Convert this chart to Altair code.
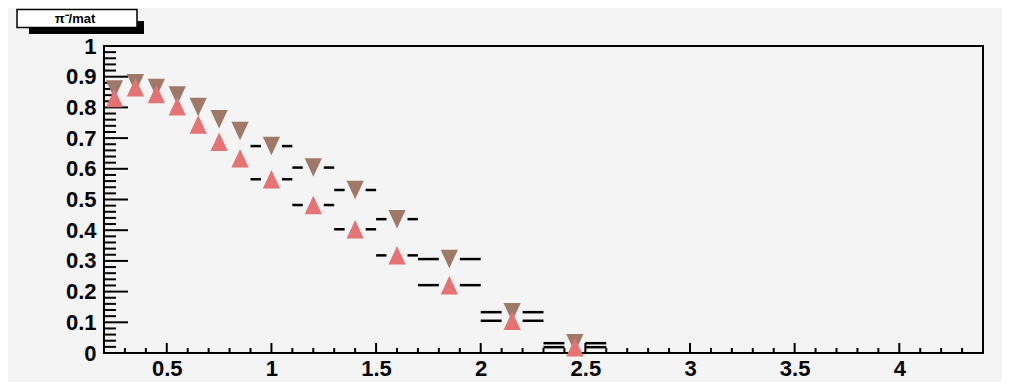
import altair as alt
import pandas as pd

# ---- data ----
x_center = [0.25, 0.35, 0.45, 0.55, 0.65, 0.75, 0.85, 1.0, 1.2, 1.4, 1.6, 1.85, 2.15, 2.45]
x_halfwidth = [0.05, 0.05, 0.05, 0.05, 0.05, 0.05, 0.05, 0.1, 0.1, 0.1, 0.1, 0.15, 0.15, 0.15]
series_down = [0.858, 0.879, 0.863, 0.839, 0.801, 0.761, 0.723, 0.674, 0.604, 0.531, 0.436, 0.306, 0.133, 0.032]
series_up = [0.831, 0.866, 0.844, 0.804, 0.744, 0.688, 0.634, 0.566, 0.482, 0.403, 0.318, 0.221, 0.105, 0.019]

x_major = [0.5, 1.0, 1.5, 2.0, 2.5, 3.0, 3.5, 4.0]
x_minor = [round(0.3 + 0.1 * i, 2) for i in range(41) if round(0.3 + 0.1 * i, 2) not in x_major]
y_major = [round(0.1 * i, 2) for i in range(11)]
y_minor = [round(0.02 * i, 2) for i in range(51) if i % 5 != 0]
title_text = "π⁻/mat"

# ---- layout ----
W, H = 879, 307
X_DOM = [0.2, 4.4]
Y_DOM = [0, 1]
PX_PER_X = W / (X_DOM[1] - X_DOM[0])
GAP = 10.5 / PX_PER_X  # empty space around the marker on the error bar

BROWN = "#a07868"
PINK = "#e57373"
FONT = "Liberation Sans"

xs = alt.Scale(domain=X_DOM, nice=False, zero=False)
ys = alt.Scale(domain=Y_DOM, nice=False, zero=False)
X_AX = alt.Axis(values=x_major, format="~g", title=None, ticks=False, domain=False, grid=False,
                labelFont=FONT, labelFontWeight="bold", labelFontSize=22, labelColor="black",
                labelPadding=5, labelFlush=False, labelOverlap=False)
Y_AX = alt.Axis(values=y_major, format="~g", title=None, ticks=False, domain=False, grid=False,
                labelFont=FONT, labelFontWeight="bold", labelFontSize=22, labelColor="black",
                labelPadding=8, labelFlush=False, labelOverlap=False)


def segments(vals):
    rows = []
    for xc, hw, v in zip(x_center, x_halfwidth, vals):
        if hw > GAP + 0.01:
            rows.append({"lo": xc - hw, "hi": xc - GAP, "val": v})
            rows.append({"lo": xc + GAP, "hi": xc + hw, "val": v})
    return pd.DataFrame(rows)


pts_down = pd.DataFrame({"x": x_center, "val": series_down})
pts_up = pd.DataFrame({"x": x_center, "val": series_up})

UP_PATH = "M0,-1L0.93,1L-0.93,1Z"
DOWN_PATH = "M-0.93,-1L0.93,-1L0,1Z"
MSIZE = 18.5 ** 2

xt_major = alt.Chart(pd.DataFrame({"v": x_major})).mark_rule(color="black", strokeWidth=2).encode(
    x=alt.X("v:Q", scale=xs, axis=X_AX), y=alt.value(H), y2=alt.value(H - 10))
xt_minor = alt.Chart(pd.DataFrame({"v": x_minor})).mark_rule(color="black", strokeWidth=2).encode(
    x=alt.X("v:Q", scale=xs, axis=X_AX), y=alt.value(H), y2=alt.value(H - 5))
yt_major = alt.Chart(pd.DataFrame({"v": y_major})).mark_rule(color="black", strokeWidth=2).encode(
    y=alt.Y("v:Q", scale=ys, axis=Y_AX), x=alt.value(0), x2=alt.value(24))
yt_minor = alt.Chart(pd.DataFrame({"v": y_minor})).mark_rule(color="black", strokeWidth=2).encode(
    y=alt.Y("v:Q", scale=ys, axis=Y_AX), x=alt.value(0), x2=alt.value(12))

bars_down = alt.Chart(segments(series_down)).mark_rule(color="black", strokeWidth=2.5).encode(
    x=alt.X("lo:Q", scale=xs, axis=X_AX), x2="hi:Q", y=alt.Y("val:Q", scale=ys, axis=Y_AX))
bars_up = alt.Chart(segments(series_up)).mark_rule(color="black", strokeWidth=2.5).encode(
    x=alt.X("lo:Q", scale=xs, axis=X_AX), x2="hi:Q", y=alt.Y("val:Q", scale=ys, axis=Y_AX))

mk_down = alt.Chart(pts_down).mark_point(shape=DOWN_PATH, filled=True, fill=BROWN, opacity=1,
                                         size=MSIZE, strokeWidth=0).encode(
    x=alt.X("x:Q", scale=xs, axis=X_AX), y=alt.Y("val:Q", scale=ys, axis=Y_AX))
mk_up = alt.Chart(pts_up).mark_point(shape=UP_PATH, filled=True, fill=PINK, opacity=1,
                                     size=MSIZE, strokeWidth=0).encode(
    x=alt.X("x:Q", scale=xs, axis=X_AX), y=alt.Y("val:Q", scale=ys, axis=Y_AX))

one = pd.DataFrame({"k": [0]})
shadow = alt.Chart(one).mark_rect(color="black").encode(
    x=alt.value(-75), x2=alt.value(40), y=alt.value(-25), y2=alt.value(-12))
box = alt.Chart(one).mark_rect(fill="white", stroke="black", strokeWidth=1.5).encode(
    x=alt.value(-87), x2=alt.value(33), y=alt.value(-36.5), y2=alt.value(-18.5))
ttl = alt.Chart(one).mark_text(font=FONT, fontWeight="bold", fontSize=13, color="black",
                               align="center", baseline="middle").encode(
    x=alt.value(-29), y=alt.value(-27.5), text=alt.value(title_text))

chart = alt.layer(
    xt_minor, xt_major, yt_minor, yt_major,
    bars_down, mk_down, bars_up, mk_up,
    shadow, box, ttl,
).properties(
    width=W, height=H,
    padding={"left": 96, "top": 38, "right": 19, "bottom": 29},
    autosize=alt.AutoSizeParams(type="none"),
    background="#f4f4f4",
).configure_view(stroke="black", strokeWidth=2)

chart.save("out.html", embed_options={"renderer": "svg", "actions": False})
